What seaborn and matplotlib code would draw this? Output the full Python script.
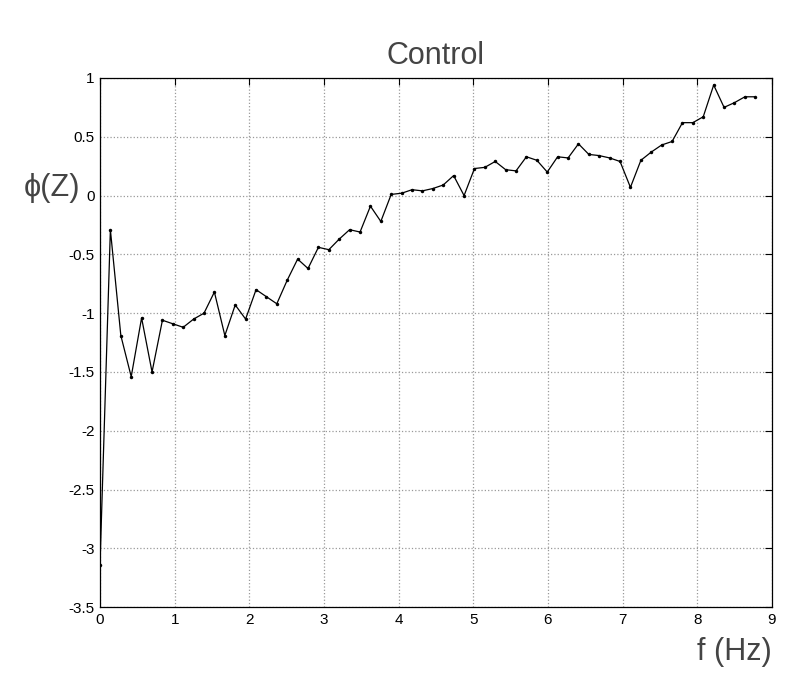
import matplotlib
matplotlib.use('Agg')
import matplotlib.pyplot as plt
import seaborn as sns
import pandas as pd

# Frequências (Hz)
freq = [0.000, 0.139, 0.279, 0.418, 0.557, 0.697, 0.836, 0.975,
        1.114, 1.254, 1.393, 1.532, 1.672, 1.811, 1.950, 2.090,
        2.229, 2.368, 2.507, 2.647, 2.786, 2.925, 3.065, 3.204,
        3.343, 3.483, 3.622, 3.761, 3.900, 4.040, 4.179, 4.318,
        4.458, 4.597, 4.736, 4.876, 5.015, 5.154, 5.293, 5.433,
        5.572, 5.711, 5.851, 5.990, 6.129, 6.269, 6.408, 6.547,
        6.686, 6.826, 6.965, 7.104, 7.244, 7.383, 7.522, 7.662,
        7.801, 7.940, 8.079, 8.219, 8.358, 8.497, 8.637, 8.776]

# Fase de Z
fase = [-3.14, -0.29, -1.19, -1.54, -1.04, -1.50, -1.06, -1.09,
        -1.12, -1.05, -1.00, -0.82, -1.19, -0.93, -1.05, -0.80,
        -0.86, -0.92, -0.72, -0.54, -0.62, -0.44, -0.46, -0.37,
        -0.29, -0.31, -0.09, -0.22, 0.01, 0.02, 0.05, 0.04,
        0.06, 0.09, 0.17, 0.00, 0.23, 0.24, 0.29, 0.22,
        0.21, 0.33, 0.30, 0.20, 0.33, 0.32, 0.44, 0.35,
        0.34, 0.32, 0.29, 0.07, 0.30, 0.37, 0.43, 0.46,
        0.62, 0.62, 0.67, 0.94, 0.75, 0.79, 0.84, 0.84]

xticks = [0, 1, 2, 3, 4, 5, 6, 7, 8, 9]
yticks = [-3.5, -3, -2.5, -2, -1.5, -1, -0.5, 0, 0.5, 1]

df = pd.DataFrame({'f': freq, 'fase': fase})

sns.set_style('white')
plt.rcParams['font.family'] = ['Liberation Sans', 'DejaVu Sans']

fig = plt.figure(figsize=(8, 6.9), dpi=100)
ax = fig.add_axes([0.125, 0.12, 0.84, 0.767])

sns.lineplot(data=df, x='f', y='fase', ax=ax, color='black', linewidth=0.9,
             marker='o', markersize=2.5, markeredgewidth=0, sort=False)

ax.set_xlim(0, 9)
ax.set_ylim(-3.5, 1)
ax.set_xticks(xticks)
ax.set_yticks(yticks)
ax.set_xticklabels([str(t) for t in xticks])
ax.set_yticklabels(['{:g}'.format(t) for t in yticks])
ax.grid(True, linestyle=':', color='#999999', linewidth=0.9)
ax.tick_params(direction='in', length=5, width=0.8, top=True, right=True,
               labelsize=11, colors='black', pad=4)
for s in ax.spines.values():
    s.set_visible(True)
    s.set_color('black')
    s.set_linewidth(0.9)

ax.set_title('Control', fontsize=22, color='#444444', pad=10)
ax.set_xlabel('')
ax.set_ylabel('')
fig.text(0.965, 0.055, 'f (Hz)', fontsize=22, color='#444444', ha='right', va='center')
fig.text(0.065, 0.728, '\u03d5(Z)', fontsize=22, color='#444444', ha='center', va='center')

plt.savefig('out.png', dpi=100)
plt.close()
